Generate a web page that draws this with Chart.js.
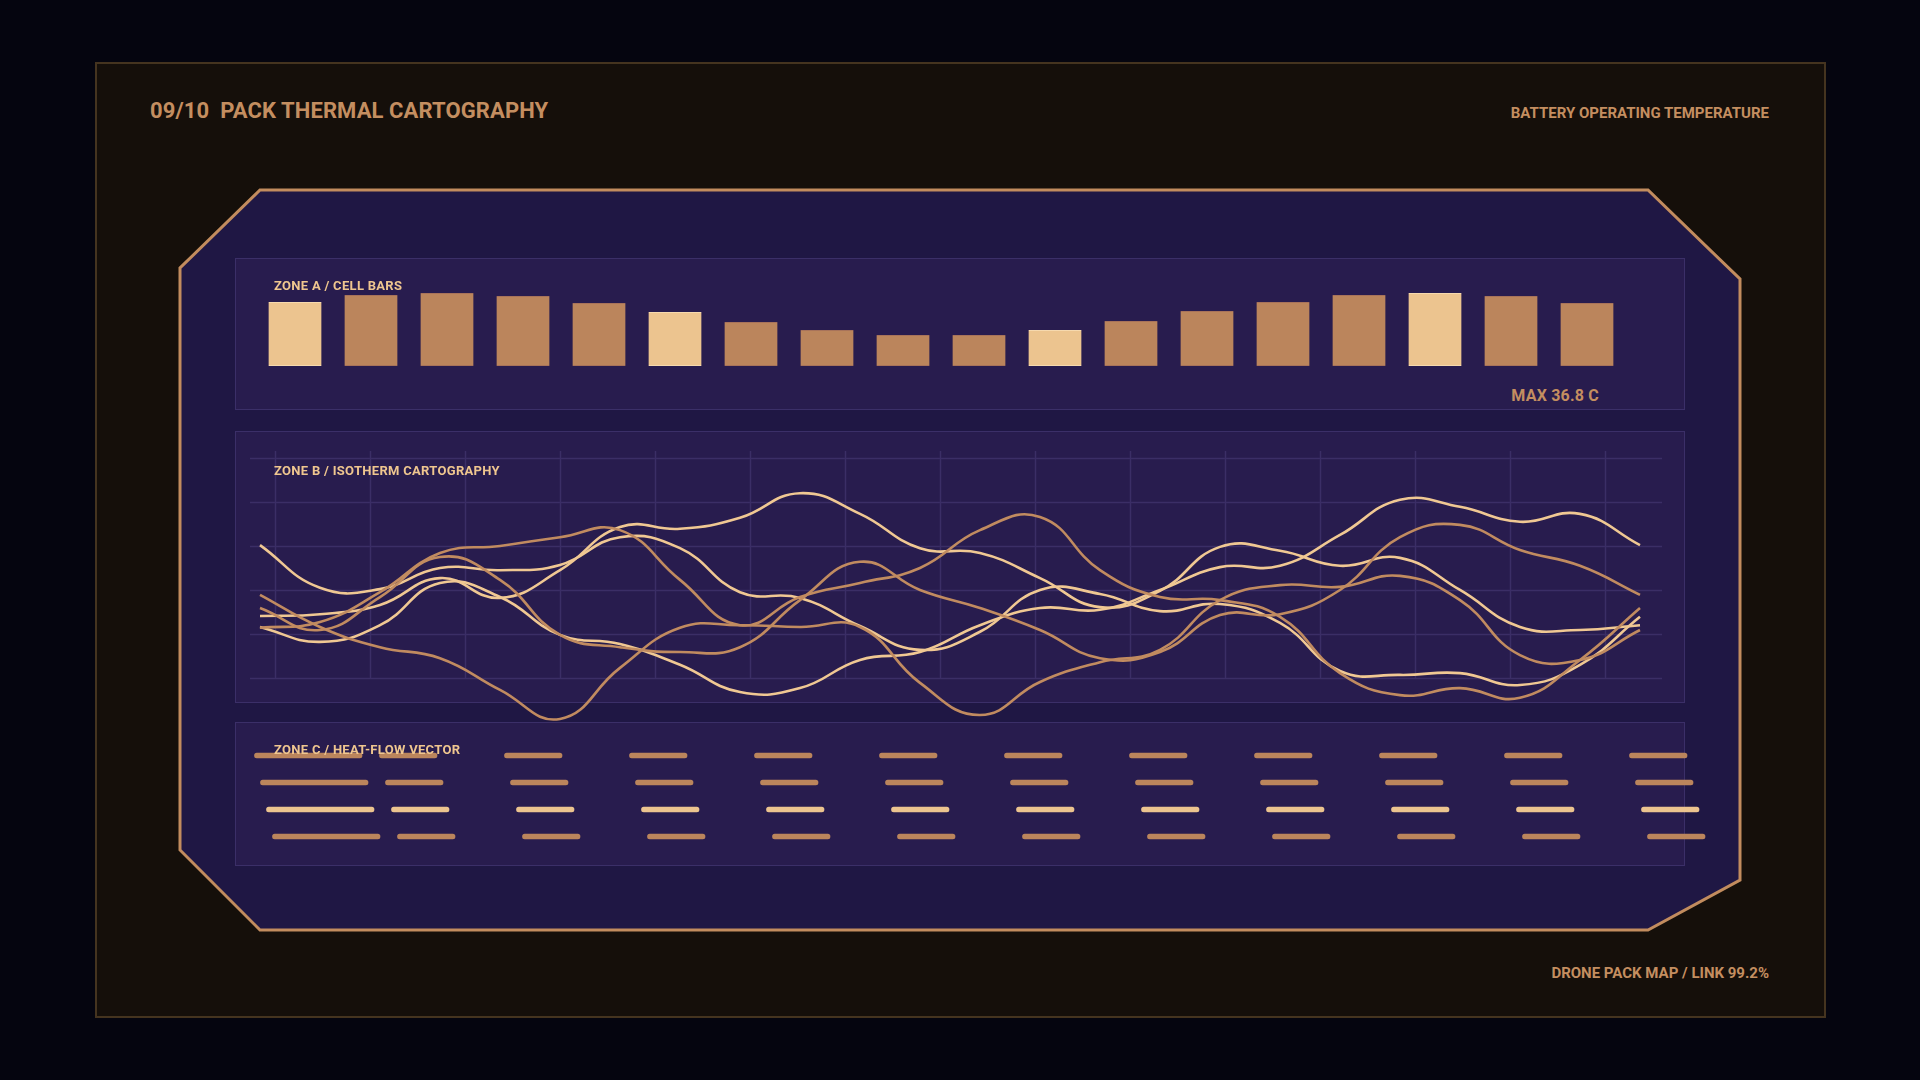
<!DOCTYPE html>
<html>
<head>
<meta charset="utf-8">
<script src="https://cdn.jsdelivr.net/npm/chart.js@4.4.1/dist/chart.umd.min.js"></script>
<style>
html, body { margin:0; padding:0; width:1920px; height:1080px; overflow:hidden; background:#05050f; font-family:Roboto, "Noto Sans", sans-serif; }
.abs { position:absolute; }
#frame { left:95px; top:62px; width:1727px; height:952px; background:#150f0a; border:2px solid #45341f; }
.zone { background:#281c4e; border:1.5px solid #3b2f68; box-sizing:border-box; }
.txt { font-weight:700; white-space:nowrap; line-height:1; }
.copper { color:#c48e60; }
.light { color:#efc68f; }
.lbl { font-size:13px; letter-spacing:0.3px; }
canvas { position:absolute; }
</style>
</head>
<body>
<div id="frame" class="abs"></div>
<svg class="abs" style="left:0;top:0" width="1920" height="1080">
  <polygon points="260,190 1648,190 1740,279 1740,880 1648,930 260,930 180,850 180,268"
           fill="#1f1744" stroke="#c28c5e" stroke-width="3"/>
</svg>

<div class="abs zone" style="left:235px;top:258px;width:1450px;height:152px"></div>
<div class="abs zone" style="left:235px;top:431px;width:1450px;height:272px"></div>
<div class="abs zone" style="left:235px;top:722px;width:1450px;height:144px"></div>

<div class="abs txt copper" style="left:150px;top:100px;font-size:22px;letter-spacing:0.1px">09/10&nbsp; PACK THERMAL CARTOGRAPHY</div>
<div class="abs txt copper" style="right:151px;top:106px;font-size:15px">BATTERY OPERATING TEMPERATURE</div>
<div class="abs txt copper" style="right:151px;top:966px;font-size:15px">DRONE PACK MAP / LINK 99.2%</div>

<canvas id="cellBars" width="1368" height="76" style="left:257px;top:290px"></canvas>
<canvas id="isoLines" width="1415" height="285" style="left:250px;top:445px"></canvas>
<canvas id="heatFlow" width="1480" height="108" style="left:240px;top:742px"></canvas>

<div class="abs txt light lbl" style="left:274px;top:279px">ZONE A / CELL BARS</div>
<div class="abs txt copper" style="right:321px;top:388px;font-size:16px;letter-spacing:0.2px">MAX 36.8 C</div>
<div class="abs txt light lbl" style="left:274px;top:464px">ZONE B / ISOTHERM CARTOGRAPHY</div>
<div class="abs txt light lbl" style="left:274px;top:743px">ZONE C / HEAT-FLOW VECTOR</div>

<script>
// ---- zone A : cell temperatures (C)
const cellNames = ['C01','C02','C03','C04','C05','C06','C07','C08','C09','C10','C11','C12','C13','C14','C15','C16','C17','C18'];
const cellTemps = [32.3, 35.8, 36.8, 35.3, 31.8, 27.2, 22.2, 18.1, 15.6, 15.6, 18.1, 22.7, 27.7, 32.3, 35.8, 36.8, 35.3, 31.8];
const cellMarked = [0, 5, 10, 15]; // lighter reference cells

// ---- zone B : isotherm traces along the pack (C)
const isoStations = ['S01','S02','S03','S04','S05','S06','S07','S08','S09','S10','S11','S12','S13','S14','S15','S16','S17','S18','S19','S20','S21','S22','S23','S24'];
const isoTempTicks = [30, 31, 32, 33, 34, 35];
const isoDarkA = [31.89, 31.16, 30.70, 30.45, 29.73, 29.07, 30.23, 31.14, 31.20, 31.16, 31.16, 29.89, 29.16, 29.91, 30.36, 30.64, 31.77, 32.11, 32.07, 32.32, 31.77, 30.52, 30.41, 31.09];
const isoDarkB = [31.59, 31.09, 31.84, 32.75, 32.23, 30.98, 30.70, 30.59, 30.70, 31.77, 32.64, 32.00, 31.59, 31.09, 30.45, 30.59, 31.43, 31.45, 32.00, 33.20, 33.48, 32.91, 32.55, 31.89];
const isoDarkC = [31.14, 31.27, 31.95, 32.84, 33.00, 33.20, 33.36, 32.23, 31.20, 31.84, 32.16, 32.50, 33.36, 33.66, 32.45, 31.84, 31.77, 31.39, 30.11, 29.61, 29.77, 29.55, 30.41, 31.59];
const isoLightA = [33.02, 32.05, 32.02, 32.50, 32.45, 32.57, 33.20, 32.95, 31.95, 31.82, 31.18, 30.64, 31.05, 32.00, 31.91, 31.52, 31.68, 31.25, 30.16, 30.07, 30.11, 29.84, 30.30, 31.39];
const isoLightB = [31.41, 31.45, 31.66, 32.27, 31.82, 32.45, 33.43, 33.39, 33.64, 34.20, 33.73, 32.95, 32.84, 32.27, 31.61, 31.98, 32.98, 32.89, 32.55, 32.73, 32.00, 31.16, 31.09, 31.20];
const isoLightC = [31.16, 30.82, 31.20, 32.16, 31.84, 30.98, 30.77, 30.30, 29.68, 29.77, 30.41, 30.59, 31.20, 31.59, 31.55, 32.00, 32.52, 32.55, 33.25, 34.05, 33.89, 33.55, 33.73, 33.02];

// ---- zone C : heat-flow vectors (magnitude in grid cells)
const flowRows = ['R1', 'R2', 'R3', 'R4'];
const flowMagnitude = [0.86, 0.46, 0.46, 0.46, 0.46, 0.46, 0.46, 0.46, 0.46, 0.46, 0.46, 0.46];
const flowDrift = 0.048; // row stagger, in cells

const COPPER = '#bb855c';
const SAND = '#ecc48f';
const DARK_LINE = '#c18b60';
const LIGHT_LINE = '#f0c893';

// zone A bars
new Chart(document.getElementById('cellBars'), {
	type: 'bar',
	data: {
		labels: cellNames,
		datasets: [{
			data: cellTemps,
			backgroundColor: cellTemps.map((v, i) => cellMarked.includes(i) ? SAND : COPPER),
			borderColor: cellTemps.map((v, i) => cellMarked.includes(i) ? '#f6d9ae' : '#a8735a'),
			borderWidth: { top: 1, bottom: 1 },
			borderSkipped: false,
			categoryPercentage: 1,
			barPercentage: 0.70
		}]
	},
	options: {
		responsive: false,
		animation: false,
		devicePixelRatio: 1,
		layout: { padding: 0 },
		plugins: { legend: { display: false }, tooltip: { enabled: false } },
		scales: {
			x: { display: false },
			y: { display: false, min: 0, max: 38.3 }
		}
	}
});

// grid behind the isotherms
const isoGrid = {
	id: 'isoGrid',
	beforeDatasetsDraw(chart) {
		const ctx = chart.ctx;
		const x = chart.scales.x, y = chart.scales.y;
		ctx.save();
		ctx.strokeStyle = '#3b2e66';
		ctx.lineWidth = 1.5;
		isoTempTicks.forEach(t => {
			const py = Math.round(y.getPixelForValue(t)) + 0.5;
			ctx.beginPath();
			ctx.moveTo(0, py);
			ctx.lineTo(chart.width - 3, py);
			ctx.stroke();
		});
		const top = y.getPixelForValue(isoTempTicks[isoTempTicks.length - 1]) - 7;
		const bot = y.getPixelForValue(isoTempTicks[0]);
		for (let k = 0; k < 15; k++) {
			const px = Math.round(x.getPixelForValue(0.25 + k * 95 / 60)) + 0.5;
			ctx.beginPath();
			ctx.moveTo(px, top);
			ctx.lineTo(px, bot);
			ctx.stroke();
		}
		ctx.restore();
	}
};

function isoSet(data, color) {
	return {
		data: data,
		borderColor: color,
		borderWidth: 2.6,
		pointRadius: 0,
		tension: 0.45,
		fill: false,
		clip: false
	};
}

new Chart(document.getElementById('isoLines'), {
	type: 'line',
	data: {
		labels: isoStations,
		datasets: [
			isoSet(isoDarkA, DARK_LINE),
			isoSet(isoDarkB, DARK_LINE),
			isoSet(isoDarkC, DARK_LINE),
			isoSet(isoLightA, LIGHT_LINE),
			isoSet(isoLightB, LIGHT_LINE),
			isoSet(isoLightC, LIGHT_LINE)
		]
	},
	options: {
		responsive: false,
		animation: false,
		devicePixelRatio: 1,
		layout: { padding: { left: 10, right: 25, top: 0, bottom: 0 } },
		plugins: { legend: { display: false }, tooltip: { enabled: false } },
		scales: {
			x: { display: false },
			y: { display: false, min: 28.818, max: 35.295 }
		}
	},
	plugins: [isoGrid]
});

// zone C vectors : one dataset per column, floating bars per row
new Chart(document.getElementById('heatFlow'), {
	type: 'bar',
	data: {
		labels: flowRows,
		datasets: flowMagnitude.map((m, c) => ({
			data: flowRows.map((r, ri) => [c + ri * flowDrift, c + ri * flowDrift + m]),
			backgroundColor: flowRows.map((r, ri) => ri === 2 ? SAND : COPPER),
			barThickness: 5,
			borderRadius: 3,
			borderSkipped: false,
			grouped: false
		}))
	},
	options: {
		indexAxis: 'y',
		responsive: false,
		animation: false,
		devicePixelRatio: 1,
		layout: { padding: 0 },
		plugins: { legend: { display: false }, tooltip: { enabled: false } },
		scales: {
			x: { display: false, type: 'linear', min: -0.116, max: 11.724 },
			y: { display: false }
		}
	}
});
</script>
</body>
</html>
